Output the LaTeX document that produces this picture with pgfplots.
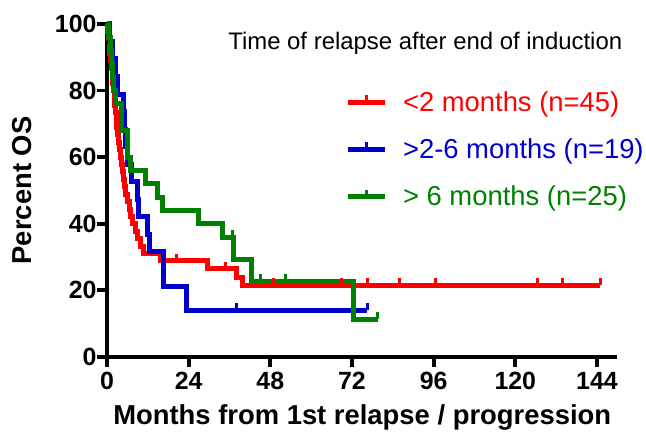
\documentclass[border=0pt]{standalone}
\usepackage{pgfplots}
\pgfplotsset{compat=1.18}
\usepackage{fontspec}
\setmainfont{Liberation Sans}
\definecolor{kmred}{RGB}{255,0,0}
\definecolor{kmblue}{RGB}{0,0,204}
\definecolor{kmgreen}{RGB}{0,128,0}
\pgfdeclareplotmark{cens}{\pgfpathmoveto{\pgfqpoint{0pt}{0pt}}\pgfpathlineto{\pgfqpoint{0pt}{\pgfplotmarksize}}\pgfusepathqstroke}
\begin{document}
\begin{tikzpicture}
\useasboundingbox (0,0) rectangle (646bp,436bp);
\begin{axis}[
  at={(107bp,79bp)}, anchor=south west,
  scale only axis, width=510.4bp, height=333bp,
  xmin=0, xmax=150, ymin=0, ymax=100,
  axis lines*=left,
  axis line style={line width=3.8bp, black},
  xtick={0,24,...,144}, ytick={0,20,...,100},
  tick align=outside, major tick length=10bp,
  tick style={line width=3.8bp, black},
  /pgf/number format/assume math mode=true,
  ticklabel style={font=\fontsize{25}{30}\selectfont\bfseries},
  xticklabel style={yshift=-2bp},
  yticklabel style={xshift=3bp},
  xlabel={Months from 1st relapse / progression},
  ylabel={Percent OS},
  label style={font=\fontsize{27.5}{32}\selectfont\bfseries},
  xlabel style={yshift=-8bp},
  ylabel style={yshift=16bp},
  clip=false,
  legend style={draw=none, fill=none, at={(axis cs:69.9,80.4)}, anchor=north west,
     font=\fontsize{27.5}{31}\selectfont, row sep=22bp, inner sep=0pt, column sep=14bp},
  legend cell align=left,
  legend image code/.code={
    \draw[#1] (0bp,0bp) -- (37bp,0bp);
    \draw[#1, line width=3bp] (18.5bp,0bp) -- (18.5bp,7bp);
  },
]
% red <2 months
\addplot[const plot, color=kmred, line width=5bp] coordinates {
(0,100)(0.2,97.8)(0.4,95.6)(0.6,93.3)(0.8,91.1)(1.1,88.9)(1.3,86.7)(1.5,84.4)(1.7,82.2)(1.9,80.0)
(2.1,77.8)(2.3,75.6)(2.5,73.3)(2.7,71.1)(2.9,68.9)(3.2,66.7)(3.4,64.4)(3.6,62.2)(3.9,60.0)(4.2,57.8)
(4.5,55.6)(4.8,53.3)(5.1,51.1)(5.5,48.9)(6.0,46.7)(6.5,44.4)(7.0,42.2)(7.6,40.0)(8.3,37.8)(9.0,35.6)
(9.8,33.3)(10.6,31.1)(15.6,28.9)(29.4,26.5)(38.2,24.0)(39.7,21.5)(145,21.5)};
\addlegendentry{\textcolor{kmred}{<2 months (n=45)}}
% blue >2-6 months
\addplot[const plot, color=kmblue, line width=5bp] coordinates {
(0,100)(0.8,94.7)(1.5,89.5)(2.5,84.2)(3.0,78.9)(4.8,73.7)(5.0,68.4)(5.4,63.2)(6.0,57.9)(7.2,52.6)
(9.0,47.4)(9.2,42.1)(12.0,36.8)(12.6,31.6)(16.6,21.1)(23.5,14.0)(76.5,14.0)};
\addlegendentry{\textcolor{kmblue}{>2-6 months (n=19)}}
% green >6 months
\addplot[const plot, color=kmgreen, line width=5bp] coordinates {
(0,100)(0.5,96)(1.0,92)(1.3,88)(1.6,84)(1.8,80)(2.4,76)(4.4,68)(5.9,60)(6.8,56)
(11.2,52)(14.7,48)(16.2,44)(27.0,40)(33.8,36)(37.2,29.2)(42.5,22.7)(72.5,11.4)(79.5,11.4)};
\addlegendentry{\textcolor{kmgreen}{> 6 months (n=25)}}
% censor marks
\addplot[forget plot, only marks, mark=cens, mark size=7bp, color=kmred, line width=3bp] coordinates {
(20.3,28.9)(34.7,26.5)(49,21.5)(69,21.5)(76.5,21.5)(86,21.5)(96.5,21.5)(126.5,21.5)(134,21.5)(145,21.5)};
\addplot[forget plot, only marks, mark=cens, mark size=7bp, color=kmblue, line width=3bp] coordinates {
(38.2,14.0)(76.5,14.0)};
\addplot[forget plot, only marks, mark=cens, mark size=7bp, color=kmgreen, line width=3bp] coordinates {
(36.8,36)(45,22.7)(52.6,22.7)(79.5,11.4)};
\node[anchor=west, font=\fontsize{24}{28}\selectfont, inner sep=0pt] at (axis cs:35.6,94.3) {Time of relapse after end of induction};
\end{axis}
\end{tikzpicture}
\end{document}
